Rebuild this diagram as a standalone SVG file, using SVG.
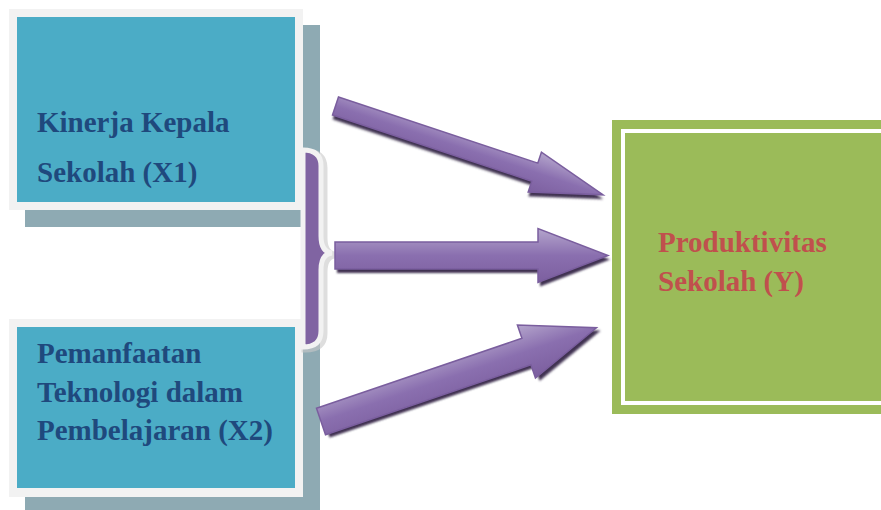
<svg xmlns="http://www.w3.org/2000/svg" width="881" height="510" viewBox="0 0 881 510">
<style>
.shadow{fill:#8eaab3}
.frame{fill:#f2f2f2}
.blue{fill:#4bacc6}
.t{font-family:"Liberation Serif","Times New Roman",serif;font-weight:bold;font-size:29px}
.tb{fill:#1f497d}
.tr{fill:#c0504d}
.arrow{fill:url(#ag);stroke:#7a5e9e;stroke-width:1.5}
.ashadow{fill:#3f3151;filter:url(#blur)}
</style>
<defs>
<linearGradient id="ag" x1="0" y1="0" x2="0" y2="1">
<stop offset="0" stop-color="#b4a5cc"/>
<stop offset="0.5" stop-color="#8a6faf"/>
<stop offset="1" stop-color="#7c5f9f"/>
</linearGradient>
<filter id="blur" x="-10%" y="-30%" width="120%" height="160%">
<feGaussianBlur stdDeviation="1.2"/>
</filter>
</defs>
<rect width="881" height="510" fill="#ffffff"/>
<g id="x1">
<rect class="shadow" x="25" y="25" width="295" height="202"/>
<rect class="frame" x="9" y="9" width="294" height="201"/>
<rect class="blue" x="17" y="17" width="278" height="185"/>
<text class="t tb" x="37" y="132">Kinerja Kepala</text>
<text class="t tb" x="37" y="182">Sekolah (X1)</text>
</g>
<g id="x2">
<rect class="shadow" x="25" y="335" width="295" height="175"/>
<rect class="frame" x="9" y="319" width="294" height="178"/>
<rect class="blue" x="17" y="327" width="278" height="161"/>
<text class="t tb" x="37" y="363">Pemanfaatan</text>
<text class="t tb" x="37" y="402">Teknologi dalam</text>
<text class="t tb" x="37" y="440">Pembelajaran (X2)</text>
</g>
<g id="y">
<rect x="612" y="120" width="280" height="294" fill="#9bbb59"/>
<rect x="623" y="131" width="270" height="272" fill="none" stroke="#ffffff" stroke-width="4"/>
<text class="t tr" x="658" y="252">Produktivitas</text>
<text class="t tr" x="658" y="291">Sekolah (Y)</text>
</g>
<g id="brace">
<path d="M303,150 Q322,150 322,166 L322,236 Q322,252 333,253 Q322,254 322,270 L322,331 Q322,347 303,347 Z" fill="#7b5a9e" stroke="#c9c9c9" stroke-width="7" opacity="0.6" transform="translate(2,2)"/>
<path d="M303,150 Q321,150 321,166 L321,236 Q321,252 332,253 Q321,254 321,270 L321,331 Q321,347 303,347 Z" fill="#8064a2" stroke="#f2f2f2" stroke-width="5"/>
</g>
<g id="connectors">
<g transform="translate(335.5,106) rotate(18.37)">
<path class="ashadow" transform="translate(1.5,4)" d="M0,-9.5 L210,-9.5 L210,-21 L282,0 L210,21 L210,9.5 L0,9.5 Z"/>
<path class="arrow" d="M0,-9.5 L210,-9.5 L210,-21 L282,0 L210,21 L210,9.5 L0,9.5 Z"/>
</g>
<g transform="translate(335,255.5)">
<path class="ashadow" transform="translate(2,4)" d="M0,-13.5 L203,-13.5 L203,-27 L273,0 L203,27 L203,13.5 L0,13.5 Z"/>
<path class="arrow" d="M0,-13.5 L203,-13.5 L203,-27 L273,0 L203,27 L203,13.5 L0,13.5 Z"/>
</g>
<g transform="translate(321,421.5) rotate(-18.8)">
<path class="ashadow" transform="translate(3,4)" d="M0,-14 L217,-14 L217,-28 L291,0 L217,28 L217,14 L0,14 Z"/>
<path class="arrow" d="M0,-14 L217,-14 L217,-28 L291,0 L217,28 L217,14 L0,14 Z"/>
</g>
</g>
</svg>
